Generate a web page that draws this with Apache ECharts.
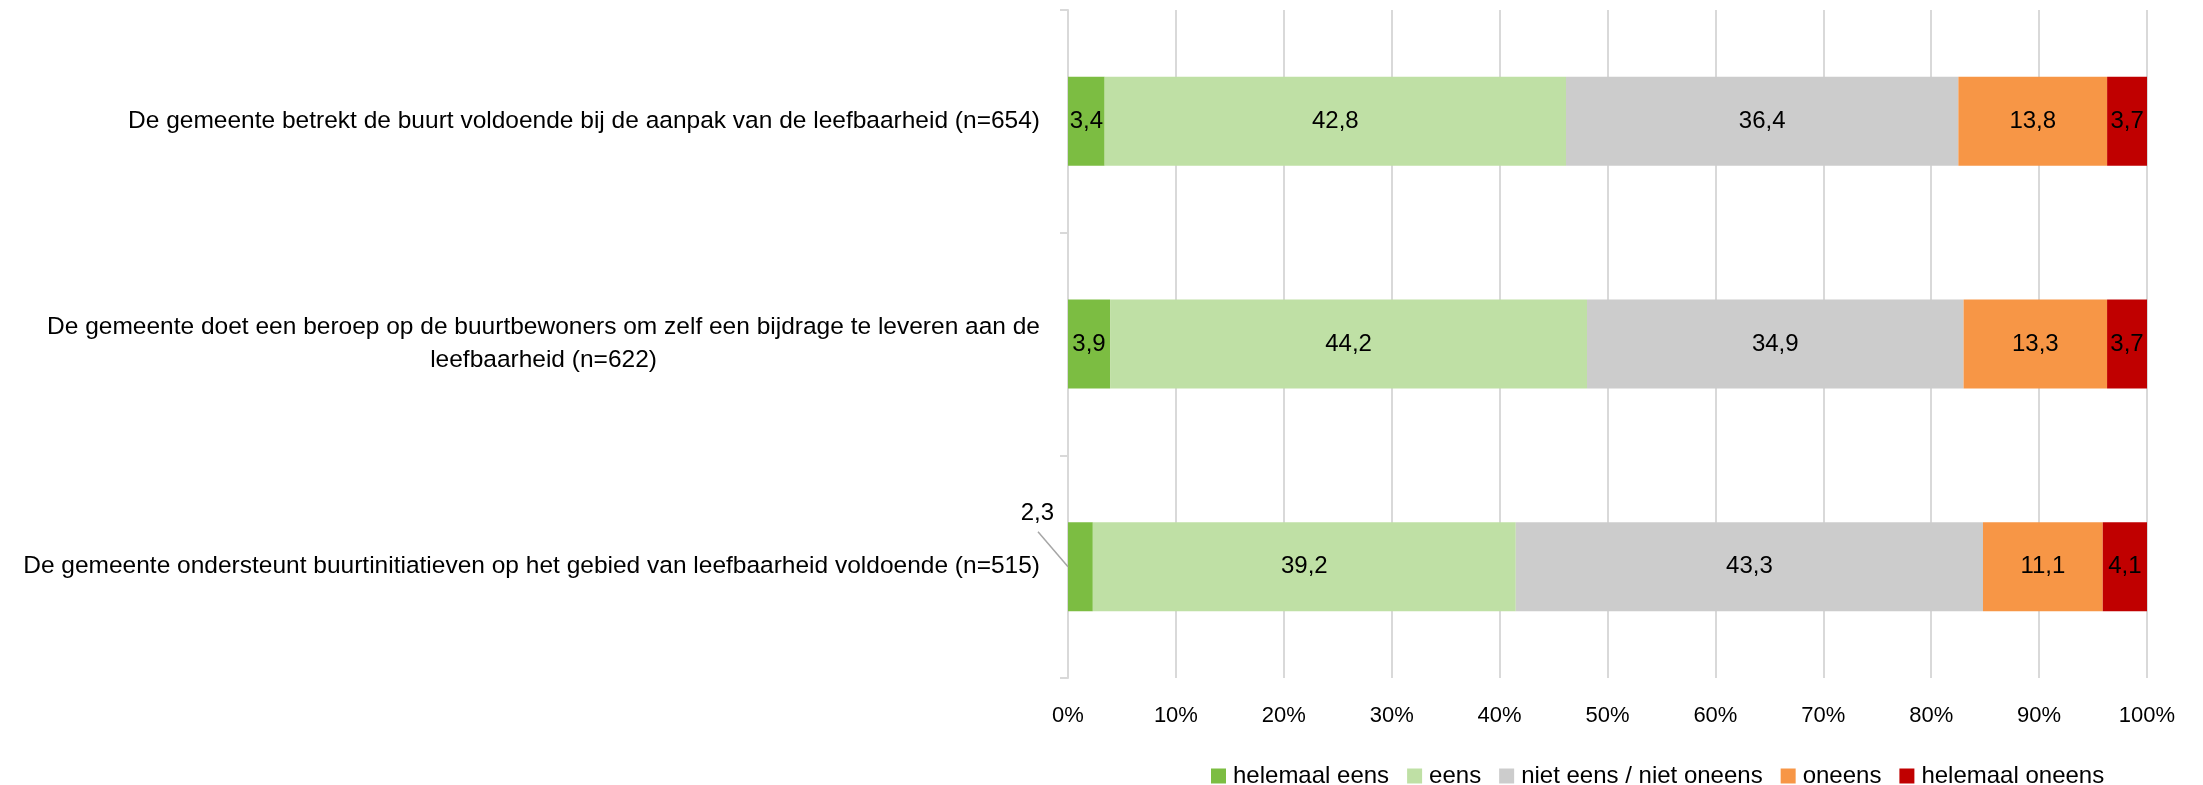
<!DOCTYPE html>
<html>
<head>
<meta charset="utf-8">
<script src="https://cdn.jsdelivr.net/npm/echarts@6/dist/echarts.min.js"></script>
<style>
html,body{margin:0;padding:0;background:#fff;}
#chart{width:2203px;height:785px;}
</style>
</head>
<body>
<div id="chart"></div>
<script>
const categories = [
  'De gemeente betrekt de buurt voldoende bij de aanpak van de leefbaarheid (n=654)',
  'De gemeente doet een beroep op de buurtbewoners om zelf een bijdrage te leveren aan de\nleefbaarheid (n=622)',
  'De gemeente ondersteunt buurtinitiatieven op het gebied van leefbaarheid voldoende (n=515)'
];
const seriesNames = ['helemaal eens', 'eens', 'niet eens / niet oneens', 'oneens', 'helemaal oneens'];
const helemaalEens = [3.4, 3.9, 2.3];
const eens = [42.8, 44.2, 39.2];
const nietEensNietOneens = [36.4, 34.9, 43.3];
const oneens = [13.8, 13.3, 11.1];
const helemaalOneens = [3.7, 3.7, 4.1];
const xTicks = [0, 10, 20, 30, 40, 50, 60, 70, 80, 90, 100];

const colors = ['#7CBD42', '#BFE0A5', '#CCCCCC', '#F79646', '#C00000'];
const allSeries = [helemaalEens, eens, nietEensNietOneens, oneens, helemaalOneens];
const totals = categories.map((c, i) => allSeries.reduce((s, arr) => s + arr[i], 0));

const FONT = 'Liberation Sans, Arial, sans-serif';
// the small segment whose label is placed outside with a leader line
const OUT_SERIES = 0, OUT_INDEX = 2;

const series = allSeries.map((arr, si) => ({
  name: seriesNames[si],
  type: 'bar',
  stack: 'total',
  barWidth: '40%',
  itemStyle: { color: colors[si] },
  data: arr.map((v, i) => ({ value: v / totals[i] * 100, raw: v })),
  label: {
    show: true,
    position: 'inside',
    color: '#000',
    fontFamily: FONT,
    fontSize: 24,
    formatter: (p) => String(p.data.raw).replace('.', ',')
  },
  labelLayout: si === OUT_SERIES ? function (params) {
    if (params.dataIndex === OUT_INDEX) return { dx: -43, dy: -53 };
    return {};
  } : undefined
}));

const chart = echarts.init(document.getElementById('chart'));
chart.setOption({
  animation: false,
  backgroundColor: '#fff',
  textStyle: { fontFamily: FONT },
  grid: { left: 1068, right: 56, top: 10, bottom: 107, containLabel: false },
  legend: {
    data: seriesNames,
    left: 1206,
    top: 759,
    itemWidth: 15,
    itemHeight: 15,
    itemGap: 18,
    icon: 'rect',
    textStyle: { fontFamily: FONT, fontSize: 24, color: '#000', padding: [0, 0, 0, 2] }
  },
  xAxis: {
    type: 'value',
    min: xTicks[0],
    max: xTicks[xTicks.length - 1],
    interval: xTicks[1] - xTicks[0],
    axisLine: { show: false },
    axisTick: { show: false },
    splitLine: { show: true, lineStyle: { color: '#D9D9D9', width: 2 } },
    axisLabel: { formatter: '{value}%', fontFamily: FONT, fontSize: 22, color: '#000', margin: 27 }
  },
  yAxis: {
    type: 'category',
    inverse: true,
    data: categories,
    axisLine: { show: true, lineStyle: { color: '#D9D9D9', width: 2 } },
    axisTick: { show: true, length: 8, lineStyle: { color: '#D9D9D9', width: 2 } },
    axisLabel: {
      margin: 28,
      color: '#000',
      fontFamily: FONT,
      fontSize: 24.5,
      lineHeight: 33,
      align: 'right',
      formatter: (v) => v.split('\n').map(l => '{c|' + l + '}').join('\n'),
      rich: { c: { align: 'center', fontFamily: FONT, fontSize: 24.5, lineHeight: 33, color: '#000' } }
    }
  },
  series: series
});

// leader line for the outside label, anchored via the chart's own scales
const base = chart.convertToPixel({ gridIndex: 0 }, [0, OUT_INDEX]);
chart.setOption({
  graphic: [{
    type: 'line',
    silent: true,
    z: 10,
    shape: { x1: base[0], y1: base[1], x2: base[0] - 30, y2: base[1] - 35 },
    style: { stroke: '#A6A6A6', lineWidth: 1.5 }
  }]
});
</script>
</body>
</html>
